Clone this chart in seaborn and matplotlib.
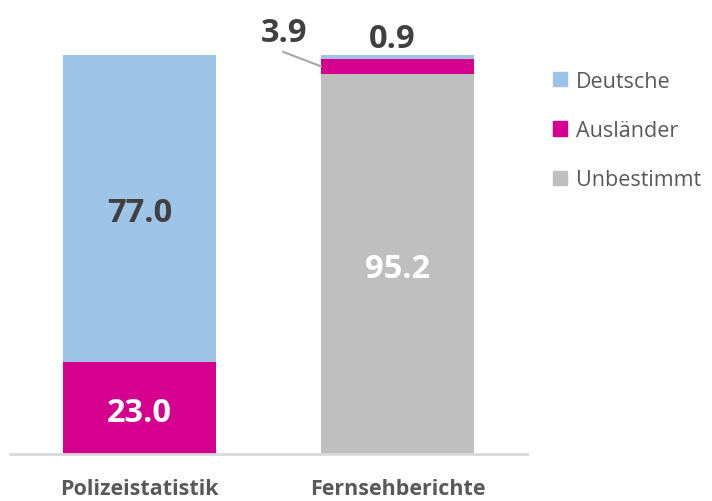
import matplotlib
matplotlib.use("Agg")
import matplotlib.pyplot as plt
import matplotlib.patches as mpatches
import seaborn as sns
import pandas as pd

# data (percent)
kategorien = ["Polizeistatistik", "Fernsehberichte"]
deutsche = [77.0, 0.9]
auslaender = [23.0, 3.9]
unbestimmt = [0.0, 95.2]

serien = ["Deutsche", "Ausländer", "Unbestimmt"]
farben = {"Deutsche": "#9DC3E6", "Ausländer": "#D6008F", "Unbestimmt": "#BFBFBF"}

df = pd.DataFrame({"kategorie": kategorien, "Deutsche": deutsche,
                   "Ausländer": auslaender, "Unbestimmt": unbestimmt})
# stack bottom -> top: Unbestimmt, Ausländer, Deutsche
df["cum_unb"] = df["Unbestimmt"]
df["cum_aus"] = df["cum_unb"] + df["Ausländer"]
df["cum_deu"] = df["cum_aus"] + df["Deutsche"]

sns.set_style("white")
plt.rcParams["font.family"] = ["Open Sans", "DejaVu Sans"]

breite = 0.593
fig = plt.figure(figsize=(7.12, 5.02), dpi=100)
ax = fig.add_axes([10 / 712, 47 / 502, 517 / 712, 399 / 502])

# draw cumulative totals from the top down so they overlap into a stack
for col, name in [("cum_deu", "Deutsche"), ("cum_aus", "Ausländer"), ("cum_unb", "Unbestimmt")]:
    sns.barplot(data=df, x="kategorie", y=col, color=farben[name], width=breite,
                saturation=1, linewidth=0, ax=ax)

ax.set_xlim(-0.5, 1.5)
ax.set_ylim(0, 100)
ax.set_xlabel("")
ax.set_ylabel("")
ax.set_yticks([])
for s in ["top", "right", "left"]:
    ax.spines[s].set_visible(False)
ax.spines["bottom"].set_color("#D9D9D9")
ax.spines["bottom"].set_linewidth(2)
ax.tick_params(axis="x", length=0, pad=17)
for lbl in ax.get_xticklabels():
    lbl.set_fontsize(15.5)
    lbl.set_fontweight("bold")
    lbl.set_color("#595959")

# value labels
num_kw = dict(fontsize=23.5, fontweight="bold", ha="center", va="center_baseline")
ax.text(0, df["cum_aus"][0] + deutsche[0] / 2, f"{deutsche[0]:.1f}", color="#404040", **num_kw)
ax.text(0, auslaender[0] / 2, f"{auslaender[0]:.1f}", color="white", **num_kw)
ax.text(1, unbestimmt[1] / 2, f"{unbestimmt[1]:.1f}", color="white", **num_kw)
ax.text(0.98, 105.1, f"{deutsche[1]:.1f}", color="#404040", clip_on=False, **num_kw)
ax.text(0.56, 106.6, f"{auslaender[1]:.1f}", color="#404040", clip_on=False, **num_kw)
# leader line for the small Ausländer segment
ax.annotate("", xy=(1 - breite / 2, df["cum_unb"][1] + auslaender[1] / 2),
            xytext=(0.556, 100.8),
            arrowprops=dict(arrowstyle="-", color="#A6A6A6", lw=1.5, shrinkA=0, shrinkB=0),
            annotation_clip=False)

handles = [mpatches.Patch(color=farben[s], label=s) for s in serien]
leg = fig.legend(handles=handles, loc="upper left", bbox_to_anchor=(544 / 712, 1 - 63 / 502),
                 frameon=False, fontsize=15.5, handlelength=0.68, handleheight=0.68,
                 handletextpad=0.4, labelspacing=1.32, borderaxespad=0)
for t in leg.get_texts():
    t.set_color("#595959")

fig.savefig("out.png", dpi=100)
